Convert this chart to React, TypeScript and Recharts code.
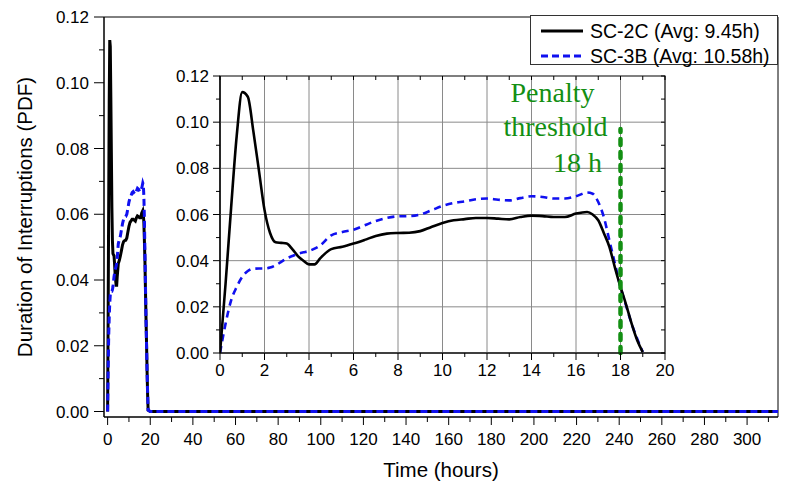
import React from 'react';
import {
  LineChart,
  Line,
  XAxis,
  YAxis,
  ReferenceLine,
  ReferenceArea,
  Legend,
  Label,
} from 'recharts';

// ---------------- data ----------------
const HOURS = [
  0, 0.25, 0.5, 0.75, 1, 1.25, 1.5, 1.75, 2, 2.25, 2.5, 2.75, 3, 3.25, 3.5, 3.75, 4, 4.25, 4.5, 5,
  5.5, 6, 6.5, 7, 7.5, 8, 8.5, 9, 9.5, 10, 10.5, 11, 11.5, 12, 12.5, 13, 13.5, 14, 14.5, 15, 15.5,
  16, 16.5, 16.75, 17, 17.25, 17.5, 17.75, 18, 18.25, 18.5, 18.75, 19,
];
const SC2C = [
  0, 0.03, 0.063, 0.094, 0.113, 0.111, 0.096, 0.079, 0.062, 0.052, 0.048, 0.0477, 0.0474, 0.045,
  0.042, 0.04, 0.0384, 0.0384, 0.041, 0.045, 0.046, 0.0474, 0.049, 0.0507, 0.0517, 0.052, 0.0521,
  0.0528, 0.0546, 0.0563, 0.0575, 0.058, 0.0585, 0.0585, 0.0582, 0.0579, 0.0589, 0.0595, 0.0593,
  0.0589, 0.0589, 0.0604, 0.0611, 0.06, 0.0575, 0.052, 0.046, 0.037, 0.0286, 0.021, 0.0127, 0.0055,
  0.0004,
];
const SC3B = [
  0, 0.0127, 0.0228, 0.0286, 0.033, 0.0355, 0.0365, 0.0366, 0.0366, 0.037, 0.038, 0.0395, 0.041,
  0.042, 0.043, 0.0436, 0.0442, 0.0452, 0.0466, 0.051, 0.0524, 0.0534, 0.0553, 0.0572, 0.0585,
  0.0592, 0.0593, 0.06, 0.0618, 0.0637, 0.065, 0.0657, 0.0666, 0.0669, 0.0664, 0.0661, 0.0671,
  0.0679, 0.0676, 0.0669, 0.0669, 0.0679, 0.0695, 0.069, 0.0654, 0.0589, 0.0488, 0.0387, 0.0286,
  0.0206, 0.0127, 0.0062, 0.0004,
];
const TAIL_HOURS = [20, 315];
const TAIL_SC2C = [0, 0];
const TAIL_SC3B = [0, 0];

const SERIES_NAMES = ['SC-2C (Avg: 9.45h)', 'SC-3B (Avg: 10.58h)'];

const MAIN_X_DOMAIN = [-1.7, 314.5];
const MAIN_Y_DOMAIN = [-0.00167, 0.12];
const MAIN_X_TICKS = [
  0, 10, 20, 30, 40, 50, 60, 70, 80, 90, 100, 110, 120, 130, 140, 150, 160, 170, 180, 190, 200, 210,
  220, 230, 240, 250, 260, 270, 280, 290, 300, 310,
];
const Y_TICKS = [0, 0.01, 0.02, 0.03, 0.04, 0.05, 0.06, 0.07, 0.08, 0.09, 0.1, 0.11, 0.12];

const INSET_X_DOMAIN = [0, 20];
const INSET_Y_DOMAIN = [0, 0.12];
const INSET_X_TICKS = [0, 1, 2, 3, 4, 5, 6, 7, 8, 9, 10, 11, 12, 13, 14, 15, 16, 17, 18, 19, 20];
const INSET_GRID_X = [2, 4, 6, 8, 10, 12, 14, 16, 18];
const INSET_GRID_Y = [0.02, 0.04, 0.06, 0.08, 0.1];

const THRESHOLD_HOURS = 18;
const THRESHOLD_TOP = 0.097;
const THRESHOLD_TEXT = ['Penalty', 'threshold', '18 h'];

const X_TITLE = 'Time (hours)';
const Y_TITLE = 'Duration of Interruptions (PDF)';

// ---------------- styles ----------------
const SANS = '"Liberation Sans", Arial, Helvetica, sans-serif';
const SERIF = '"Liberation Serif", "Times New Roman", serif';
const GREEN = '#138f13';
const BLUE = '#1010f0';

const mainData = [...HOURS, ...TAIL_HOURS].map((h, i) => ({
  h,
  a: i < HOURS.length ? SC2C[i] : TAIL_SC2C[i - HOURS.length],
  b: i < HOURS.length ? SC3B[i] : TAIL_SC3B[i - HOURS.length],
}));
const insetData = HOURS.map((h, i) => ({ h, a: SC2C[i], b: SC3B[i] }));

const isMajorY = (v: number) => Math.round(v * 100) % 2 === 0;

type TickOpts = {
  major: (v: number) => boolean;
  long: number;
  short: number;
  gap: number;
  fontSize: number;
  fmt: (v: number) => string;
  showLabel?: boolean;
};

function makeLeftTick(o: TickOpts) {
  return (props: any) => {
    const { x, y, payload } = props;
    const v = payload.value;
    const m = o.major(v);
    return (
      <g>
        <line x1={x} x2={x - (m ? o.long : o.short)} y1={y} y2={y} stroke="#000" strokeWidth={1} />
        {m && (
          <text x={x - o.gap} y={y + 6} textAnchor="end" fontSize={o.fontSize} fontFamily={SANS} fill="#000">
            {o.fmt(v)}
          </text>
        )}
      </g>
    );
  };
}

function makeBottomTick(o: TickOpts) {
  return (props: any) => {
    const { x, y, payload } = props;
    const v = payload.value;
    const m = o.major(v);
    return (
      <g>
        <line x1={x} x2={x} y1={y} y2={y + (m ? o.long : o.short)} stroke="#000" strokeWidth={1} />
        {m && (
          <text x={x} y={y + o.gap} textAnchor="middle" fontSize={o.fontSize} fontFamily={SANS} fill="#000">
            {o.fmt(v)}
          </text>
        )}
      </g>
    );
  };
}

function makeTopInwardTick(len: number) {
  return (props: any) => {
    const { x, y } = props;
    return <line x1={x} x2={x} y1={y} y2={y + len} stroke="#000" strokeWidth={1} />;
  };
}

function makeRightInwardTick(len: number) {
  return (props: any) => {
    const { x, y } = props;
    return <line x1={x} x2={x - len} y1={y} y2={y} stroke="#000" strokeWidth={1} />;
  };
}

const mainYTick = makeLeftTick({
  major: isMajorY,
  long: 10,
  short: 5,
  gap: 15,
  fontSize: 17,
  fmt: (v) => v.toFixed(2),
});
const mainXTick = makeBottomTick({
  major: (v) => v % 20 === 0,
  long: 8,
  short: 5,
  gap: 28,
  fontSize: 17,
  fmt: (v) => String(v),
});
const insetYTick = makeLeftTick({
  major: isMajorY,
  long: 7,
  short: 4,
  gap: 11,
  fontSize: 17,
  fmt: (v) => v.toFixed(2),
});
const insetXTick = makeBottomTick({
  major: (v) => v % 2 === 0,
  long: 7,
  short: 4,
  gap: 23,
  fontSize: 17,
  fmt: (v) => String(v),
});

const LEGEND_STYLES = [
  { color: '#000', dash: undefined as string | undefined },
  { color: BLUE, dash: '7 4' },
];

function LegendBox() {
  return (
    <div
      style={{
        boxSizing: 'border-box',
        width: 248,
        height: 50,
        border: '1px solid #333',
        background: '#fff',
        fontFamily: SANS,
        fontSize: 19.5,
        color: '#000',
        position: 'relative',
      }}
    >
      {SERIES_NAMES.map((name, i) => (
        <div
          key={name}
          style={{ position: 'absolute', left: 9, top: 3 + i * 25, height: 24, display: 'flex', alignItems: 'center' }}
        >
          <svg width={44} height={24} style={{ display: 'block' }}>
            <line
              x1={1}
              x2={43}
              y1={12}
              y2={12}
              stroke={LEGEND_STYLES[i].color}
              strokeWidth={3}
              strokeDasharray={LEGEND_STYLES[i].dash}
            />
          </svg>
          <span style={{ marginLeft: 6, whiteSpace: 'nowrap', lineHeight: '24px' }}>{name}</span>
        </div>
      ))}
    </div>
  );
}

function XTitle(props: any) {
  const vb = props.viewBox;
  return (
    <text x={vb.x + vb.width / 2} y={vb.y + 60} textAnchor="middle" fontSize={20.5} fontFamily={SANS} fill="#000">
      {X_TITLE}
    </text>
  );
}

function YTitle(props: any) {
  const vb = props.viewBox;
  const cx = vb.x + 32;
  const cy = vb.y + vb.height / 2;
  return (
    <text
      x={cx}
      y={cy}
      transform={`rotate(-90 ${cx} ${cy})`}
      textAnchor="middle"
      fontSize={20.5}
      fontFamily={SANS}
      fill="#000"
    >
      {Y_TITLE}
    </text>
  );
}

function ThresholdLabel(props: any) {
  const vb = props.viewBox;
  const x = vb.x;
  const top = vb.y;
  const offsets = [
    { dx: -68, dy: -27 },
    { dx: -65, dy: 7 },
    { dx: -43, dy: 43 },
  ];
  return (
    <g>
      {THRESHOLD_TEXT.map((t, i) => (
        <text
          key={t}
          x={x + offsets[i].dx}
          y={top + offsets[i].dy}
          textAnchor="middle"
          fontSize={28}
          fontFamily={SERIF}
          fill={GREEN}
        >
          {t}
        </text>
      ))}
    </g>
  );
}

export default function App() {
  return (
    <div style={{ position: 'absolute', left: 0, top: 0, width: 786, height: 484, background: '#fff' }}>
      <LineChart width={786} height={484} data={mainData} margin={{ top: 17, right: 8, bottom: 0, left: 0 }}>
        <ReferenceArea
          x1={MAIN_X_DOMAIN[0]}
          x2={MAIN_X_DOMAIN[1]}
          y1={MAIN_Y_DOMAIN[0]}
          y2={MAIN_Y_DOMAIN[1]}
          fill="none"
          stroke="#000"
          strokeWidth={1}
          ifOverflow="visible"
        />
        <XAxis
          dataKey="h"
          type="number"
          domain={MAIN_X_DOMAIN}
          allowDataOverflow
          ticks={MAIN_X_TICKS}
          interval={0}
          height={67}
          tickSize={0}
          tickMargin={0}
          tickLine={false}
          axisLine={{ stroke: '#000', strokeWidth: 1 }}
          tick={mainXTick}
        >
          <Label content={XTitle} />
        </XAxis>
        <YAxis
          type="number"
          domain={MAIN_Y_DOMAIN}
          allowDataOverflow
          ticks={Y_TICKS}
          interval={0}
          width={104}
          tickSize={0}
          tickMargin={0}
          tickLine={false}
          axisLine={{ stroke: '#000', strokeWidth: 1 }}
          tick={mainYTick}
        >
          <Label content={YTitle} />
        </YAxis>
        <Line
          dataKey="a"
          name={SERIES_NAMES[0]}
          type="linear"
          stroke="#000"
          strokeWidth={3}
          dot={false}
          activeDot={false}
          isAnimationActive={false}
        />
        <Line
          dataKey="b"
          name={SERIES_NAMES[1]}
          type="linear"
          stroke={BLUE}
          strokeWidth={3}
          strokeDasharray="7 4"
          dot={false}
          activeDot={false}
          isAnimationActive={false}
        />
        <Legend
          layout="horizontal"
          verticalAlign="middle"
          align="center"
          content={() => <LegendBox />}
          wrapperStyle={{ position: 'absolute', left: 530, top: 15, width: 248, height: 50 }}
        />
      </LineChart>

      <div style={{ position: 'absolute', left: 160, top: 60, width: 520, height: 330 }}>
        <LineChart width={520} height={330} data={insetData} margin={{ top: 15, right: 14, bottom: 0, left: 0 }}>
          <ReferenceArea
            x1={INSET_X_DOMAIN[0]}
            x2={INSET_X_DOMAIN[1]}
            y1={INSET_Y_DOMAIN[0]}
            y2={INSET_Y_DOMAIN[1]}
            fill="#fff"
            fillOpacity={1}
            stroke="#000"
            strokeWidth={1.2}
            ifOverflow="visible"
          />
          {INSET_GRID_X.map((v) => (
            <ReferenceLine key={`gx${v}`} x={v} stroke="#8a8a8a" strokeWidth={1} ifOverflow="visible" />
          ))}
          {INSET_GRID_Y.map((v) => (
            <ReferenceLine key={`gy${v}`} y={v} stroke="#8a8a8a" strokeWidth={1} ifOverflow="visible" />
          ))}
          <XAxis
            dataKey="h"
            type="number"
            domain={INSET_X_DOMAIN}
            allowDataOverflow
            ticks={INSET_X_TICKS}
            interval={0}
            height={37}
            tickSize={0}
            tickMargin={0}
            tickLine={false}
            axisLine={{ stroke: '#000', strokeWidth: 1.2 }}
            tick={insetXTick}
          />
          <XAxis
            xAxisId="top"
            orientation="top"
            dataKey="h"
            type="number"
            domain={INSET_X_DOMAIN}
            allowDataOverflow
            ticks={INSET_X_TICKS}
            interval={0}
            height={1}
            tickSize={0}
            tickMargin={0}
            tickLine={false}
            axisLine={false}
            tick={makeTopInwardTick(4)}
          />
          <YAxis
            type="number"
            domain={INSET_Y_DOMAIN}
            allowDataOverflow
            ticks={Y_TICKS}
            interval={0}
            width={60}
            tickSize={0}
            tickMargin={0}
            tickLine={false}
            axisLine={{ stroke: '#000', strokeWidth: 1.2 }}
            tick={insetYTick}
          />
          <YAxis
            yAxisId="right"
            orientation="right"
            type="number"
            domain={INSET_Y_DOMAIN}
            allowDataOverflow
            ticks={Y_TICKS}
            interval={0}
            width={1}
            tickSize={0}
            tickMargin={0}
            tickLine={false}
            axisLine={false}
            tick={makeRightInwardTick(4)}
          />
          <Line
            dataKey="b"
            name={SERIES_NAMES[1]}
            type="monotone"
            stroke={BLUE}
            strokeWidth={2.6}
            strokeDasharray="7 5"
            dot={false}
            activeDot={false}
            isAnimationActive={false}
          />
          <Line
            dataKey="a"
            name={SERIES_NAMES[0]}
            type="monotone"
            stroke="#000"
            strokeWidth={2.6}
            dot={false}
            activeDot={false}
            isAnimationActive={false}
          />
          <ReferenceLine
            segment={[
              { x: THRESHOLD_HOURS, y: 0 },
              { x: THRESHOLD_HOURS, y: THRESHOLD_TOP },
            ]}
            stroke={GREEN}
            strokeWidth={4.5}
            strokeDasharray="6 7"
            strokeLinecap="round"
            ifOverflow="visible"
          >
            <Label content={ThresholdLabel} />
          </ReferenceLine>
        </LineChart>
      </div>
    </div>
  );
}
